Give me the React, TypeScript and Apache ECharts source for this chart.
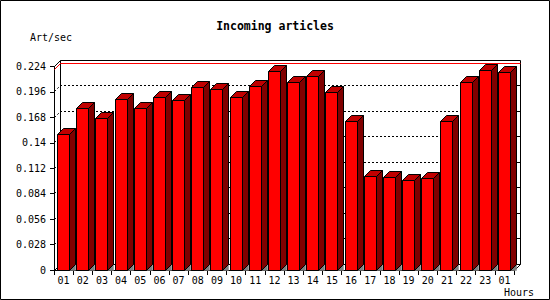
import React, { useEffect, useRef } from "react";
import * as echarts from "echarts";

const HOURS = ["01","02","03","04","05","06","07","08","09","10","11","12","13","14","15","16","17","18","19","20","21","22","23","01"];
const VALUES = [0.1497,0.1776,0.1666,0.1876,0.1776,0.1898,0.1865,0.2008,0.1986,0.1894,0.2016,0.2181,0.206,0.2126,0.195,0.164,0.103,0.1019,0.099,0.1011,0.164,0.206,0.2195,0.217];
const GRID_LEVELS = [0.028, 0.056, 0.084, 0.112, 0.14, 0.168, 0.196];
const MAX_LINE = [0.2203];
const Y_MIN = 0;
const Y_MAX = 0.224;
const Y_STEP = 0.028;

const DEPTH = 6;
const FONT = "'DejaVu Sans Mono', 'Liberation Mono', monospace";
const c = (v: number) => Math.round(v - 0.5) + 0.5;

export default function App() {
  const ref = useRef<HTMLDivElement>(null);
  useEffect(() => {
    if (!ref.current) return;
    const chart = echarts.init(ref.current, null, { renderer: "svg" });
    const d = DEPTH;
    const option: any = {
      animation: false,
      backgroundColor: "#ffffff",
      title: [
        { text: "Incoming articles", left: "center", top: 20, padding: 0, textStyle: { fontFamily: FONT, fontSize: 11.5, fontWeight: "bold", color: "#000" } },
        { text: "Art/sec", left: 30, top: 32, padding: 0, textStyle: { fontFamily: FONT, fontSize: 10, fontWeight: "normal", color: "#000" } },
        { text: "Hours", right: 16, top: 287, padding: 0, textStyle: { fontFamily: FONT, fontSize: 10, fontWeight: "normal", color: "#000" } },
      ],
      graphic: [
        { type: "rect", shape: { x: 0.5, y: 0.5, width: 549, height: 299 }, style: { fill: "none", stroke: "#000", lineWidth: 1 }, silent: true },
      ],
      grid: { left: 54, right: 36, top: 66.5, bottom: 30 },
      xAxis: {
        type: "category",
        data: HOURS,
        boundaryGap: true,
        axisLine: { show: true, lineStyle: { color: "#000", width: 1 } },
        axisTick: { show: true, length: 5, lineStyle: { color: "#000" } },
        axisLabel: { interval: 0, margin: 5, fontFamily: FONT, fontSize: 10, color: "#000" },
        splitLine: { show: false },
      },
      yAxis: {
        type: "value",
        min: Y_MIN,
        max: Y_MAX,
        interval: Y_STEP,
        axisLine: { show: true, lineStyle: { color: "#000", width: 1 } },
        axisTick: { show: true, length: 4, lineStyle: { color: "#000" } },
        axisLabel: {
          margin: 8,
          fontFamily: FONT,
          fontSize: 10,
          color: "#000",
          showMinLabel: true,
          showMaxLabel: true,
          formatter: (v: number) => String(parseFloat(v.toFixed(3))),
        },
        splitLine: { show: false },
      },
      series: [
        {
          type: "custom",
          name: "frame",
          z: 1,
          silent: true,
          data: [[0, Y_MIN]],
          renderItem: (params: any, api: any) => {
            const cs = params.coordSys;
            const x0 = c(cs.x), x1 = c(cs.x + cs.width), yT = c(cs.y), yB = c(cs.y + cs.height);
            const st = { stroke: "#000", lineWidth: 1, fill: "none" };
            const line = (pts: number[][]) => ({ type: "polyline", shape: { points: pts }, style: st });
            return {
              type: "group",
              children: [
                line([[x0 + d, yB - d], [x0 + d, yT - d], [x1 + d, yT - d], [x1 + d, yB - d]]),
                line([[x0 + d, yB - d], [x1 + d, yB - d]]),
                line([[x0, yT], [x0 + d, yT - d]]),
                line([[x0, yB], [x0 + d, yB - d]]),
                line([[x1, yB], [x1 + d, yB - d]]),
              ],
            };
          },
        },
        {
          type: "custom",
          name: "grid",
          z: 1,
          silent: true,
          data: GRID_LEVELS.map((v) => [0, v]),
          renderItem: (params: any, api: any) => {
            const cs = params.coordSys;
            const x0 = c(cs.x), x1 = c(cs.x + cs.width);
            const y = c(api.coord([0, api.value(1)])[1]);
            return {
              type: "group",
              children: [
                {
                  type: "polyline",
                  shape: { points: [[x0, y], [x0 + d, y - d], [x1 + d, y - d]] },
                  style: { stroke: "#000", lineWidth: 1, fill: "none", lineDash: [2, 2] },
                },
                {
                  type: "line",
                  shape: { x1: x1 + d - 3, y1: y - d, x2: x1 + d, y2: y - d },
                  style: { stroke: "#000", lineWidth: 1 },
                },
              ],
            };
          },
        },
        {
          type: "custom",
          name: "max",
          z: 2,
          silent: true,
          data: MAX_LINE.map((v) => [0, v]),
          renderItem: (params: any, api: any) => {
            const cs = params.coordSys;
            const x0 = c(cs.x), x1 = c(cs.x + cs.width);
            const y = c(api.coord([0, api.value(1)])[1]);
            return {
              type: "polyline",
              shape: { points: [[x0, y], [x0 + d, y - d], [x1 + d, y - d]] },
              style: { stroke: "#ff0000", lineWidth: 1, fill: "none" },
            };
          },
        },
        {
          type: "custom",
          name: "Art/sec",
          z: 3,
          data: VALUES.map((v, i) => [i, v]),
          renderItem: (params: any, api: any) => {
            const idx = api.value(0);
            const v = api.value(1);
            const top = api.coord([idx, v]);
            const base = api.coord([idx, 0]);
            const bw = api.size([1, 0])[0];
            const fw = Math.round(bw * 0.64);
            const xa = c(top[0] - fw / 2);
            const xb = xa + fw;
            const yt = c(top[1]);
            const yb = c(base[1]);
            const edge = { stroke: "#000", lineWidth: 1 };
            return {
              type: "group",
              children: [
                { type: "polygon", shape: { points: [[xb, yb], [xb + d, yb - d], [xb + d, yb]] }, style: { fill: "#808080", stroke: "#808080", lineWidth: 0.5 } },
                { type: "polygon", shape: { points: [[xb, yt], [xb + d, yt - d], [xb + d, yb - d], [xb, yb]] }, style: { fill: "#800000", ...edge } },
                { type: "polygon", shape: { points: [[xa, yt], [xa + d, yt - d], [xb + d, yt - d], [xb, yt]] }, style: { fill: "#c00000", ...edge } },
                { type: "rect", shape: { x: xa, y: yt, width: fw, height: yb - yt }, style: { fill: "#ff0000", ...edge } },
              ],
            };
          },
        },
      ],
    };
    chart.setOption(option);
    return () => chart.dispose();
  }, []);
  return (
    <div
      ref={ref}
      style={{ position: "absolute", left: 0, top: 0, width: 550, height: 300 }}
    />
  );
}
